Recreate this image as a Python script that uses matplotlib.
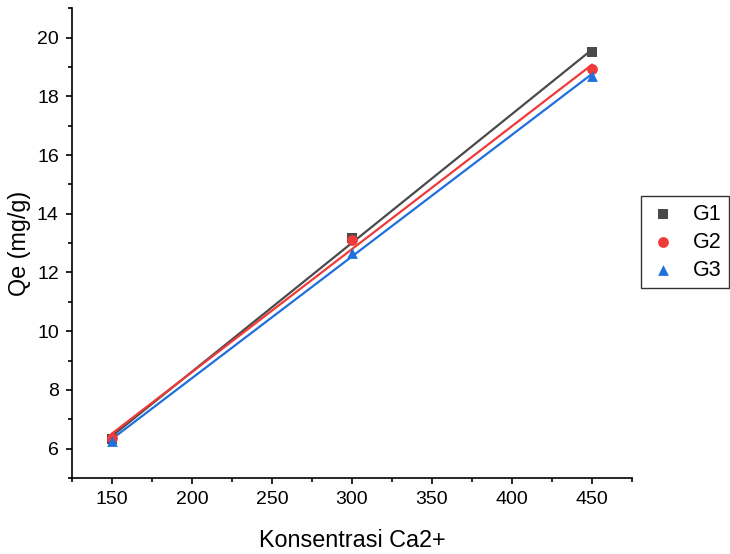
import numpy as np
import matplotlib
matplotlib.use("Agg")
import matplotlib.pyplot as plt
from matplotlib.ticker import MultipleLocator

plt.rcParams['font.family'] = ['Liberation Sans', 'DejaVu Sans']

konsentrasi = [150, 300, 450]
g1 = [6.34, 13.18, 19.50]
g2 = [6.36, 13.10, 18.92]
g3 = [6.27, 12.66, 18.70]

series = [
    ("G1", g1, "#4a4a4a", "s"),
    ("G2", g2, "#ef3a3a", "o"),
    ("G3", g3, "#1f6fdc", "^"),
]

fig = plt.figure(figsize=(7.3, 5.54), dpi=100)
ax = fig.add_axes([0.0986, 0.1372, 0.767, 0.848])

x = np.array(konsentrasi, dtype=float)
handles = []
for name, vals, color, marker in series:
    k, b = np.polyfit(x, vals, 1)
    ax.plot(x, k * x + b, color=color, lw=1.6, zorder=2)
    h = ax.scatter(x, vals, marker=marker, s=60, color=color, zorder=3,
                   label=name, linewidths=0)
    handles.append(h)

ax.set_xlim(125, 475)
ax.set_ylim(5, 21)
ax.xaxis.set_major_locator(MultipleLocator(50))
ax.xaxis.set_minor_locator(MultipleLocator(25))
ax.yaxis.set_major_locator(MultipleLocator(2))
ax.yaxis.set_minor_locator(MultipleLocator(1))
ax.tick_params(which='major', direction='out', length=4.5, width=1.2,
               labelsize=14, pad=5)
ax.tick_params(which='minor', direction='out', length=3, width=1.2)
for s in ['top', 'right']:
    ax.spines[s].set_visible(False)
for s in ['left', 'bottom']:
    ax.spines[s].set_linewidth(1.2)

ax.set_xlabel("Konsentrasi Ca2+", fontsize=16.8, labelpad=15)
ax.set_ylabel("Qe (mg/g)", fontsize=16.8, labelpad=4)

leg = fig.legend(handles=handles, loc='upper left',
                 bbox_to_anchor=(641 / 730, 1 - 196 / 554),
                 frameon=True, fancybox=False, edgecolor='black',
                 fontsize=15.5, handletextpad=0.75, borderpad=0.35,
                 labelspacing=0.33, handlelength=1.3, borderaxespad=0)
leg.get_frame().set_linewidth(1.0)

fig.savefig("out.png", dpi=100)
